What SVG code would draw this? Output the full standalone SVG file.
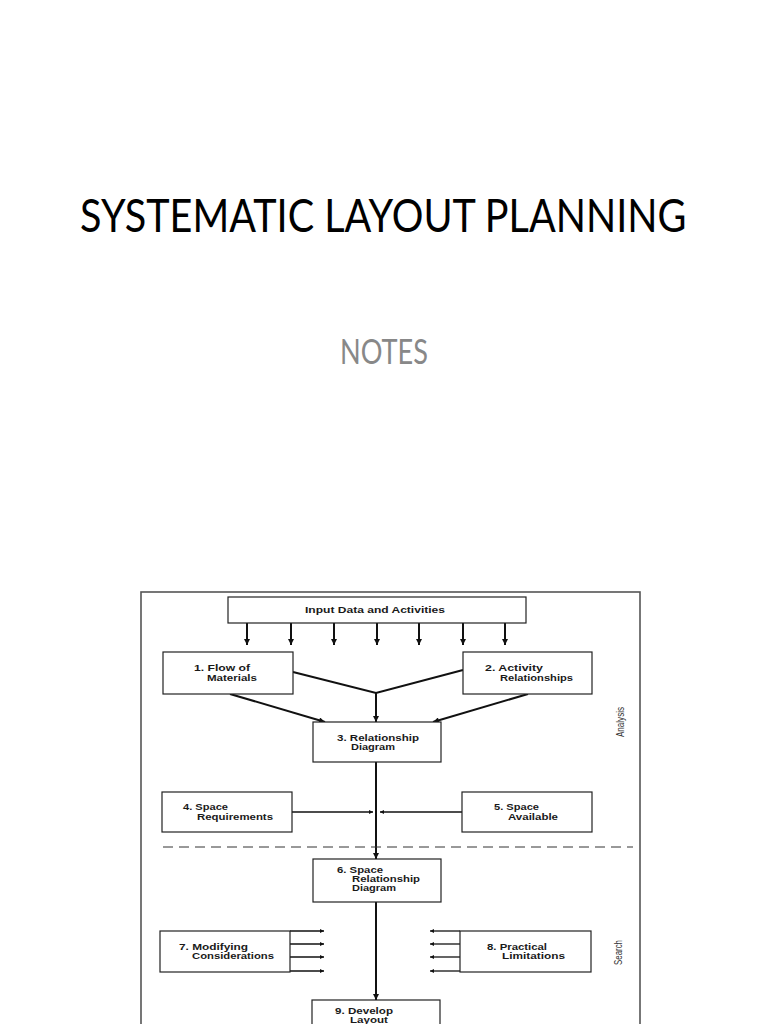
<svg xmlns="http://www.w3.org/2000/svg" width="768" height="1024" viewBox="0 0 768 1024">
<style>
.title{font-family:Lato,"Open Sans","Liberation Sans",sans-serif;font-size:47px;fill:#000}
.sub{font-family:Lato,"Open Sans","Liberation Sans",sans-serif;font-size:34px;fill:#888}
.box{fill:#fff;stroke:#222;stroke-width:1.2}
.lbl{font-family:"Liberation Sans",Arial,sans-serif;font-size:9px;font-weight:bold;fill:#1a1a1a}
.side{font-family:"Liberation Sans",Arial,sans-serif;font-size:10px;fill:#333}
.thick{stroke:#111;stroke-width:2;fill:none}
.thin{stroke:#111;stroke-width:1.3;fill:none}
</style>
<defs>
<marker id="ah" viewBox="0 0 10 10" refX="10" refY="5" markerWidth="8" markerHeight="6" markerUnits="userSpaceOnUse" orient="auto">
<path d="M0,0 L10,5 L0,10 z" fill="#111"/>
</marker>
<marker id="ahs" viewBox="0 0 10 10" refX="10" refY="5" markerWidth="8" markerHeight="4" markerUnits="userSpaceOnUse" orient="auto">
<path d="M0,0 L10,5 L0,10 z" fill="#111"/>
</marker>
</defs>
<rect width="768" height="1024" fill="#fff"/>
<text class="title" transform="translate(80,232) scale(0.87,1)" x="0" y="0" textLength="697" lengthAdjust="spacingAndGlyphs">SYSTEMATIC LAYOUT PLANNING</text>
<text class="sub" x="340" y="364" textLength="88" lengthAdjust="spacingAndGlyphs">NOTES</text>

<rect id="frame" x="141" y="592" width="499" height="440" fill="none" stroke="#555" stroke-width="1.6"/>

<g id="connectors">
<line class="thick" x1="247" y1="623" x2="247" y2="645" marker-end="url(#ah)"/>
<line class="thick" x1="291" y1="623" x2="291" y2="645" marker-end="url(#ah)"/>
<line class="thick" x1="334" y1="623" x2="334" y2="645" marker-end="url(#ah)"/>
<line class="thick" x1="377" y1="623" x2="377" y2="645" marker-end="url(#ah)"/>
<line class="thick" x1="419" y1="623" x2="419" y2="645" marker-end="url(#ah)"/>
<line class="thick" x1="463" y1="623" x2="463" y2="645" marker-end="url(#ah)"/>
<line class="thick" x1="505" y1="623" x2="505" y2="645" marker-end="url(#ah)"/>
<polyline class="thick" points="293,672 376,693 463,670"/>
<line class="thick" x1="376" y1="693" x2="376" y2="722" marker-end="url(#ah)"/>
<line class="thick" x1="230" y1="694" x2="325" y2="722" marker-end="url(#ah)"/>
<line class="thick" x1="528" y1="694" x2="433" y2="722" marker-end="url(#ah)"/>
<line class="thick" x1="376" y1="762" x2="376" y2="859" marker-end="url(#ah)"/>
<line class="thin" x1="292" y1="812" x2="373" y2="812" marker-end="url(#ahs)"/>
<line class="thin" x1="462" y1="812" x2="380" y2="812" marker-end="url(#ahs)"/>
<line stroke="#333" stroke-width="1" stroke-dasharray="10,6" x1="163" y1="847" x2="633" y2="847"/>
<line class="thick" x1="376" y1="902" x2="376" y2="1000" marker-end="url(#ah)"/>
<line class="thin" x1="290" y1="931" x2="324" y2="931" marker-end="url(#ahs)"/>
<line class="thin" x1="290" y1="944" x2="324" y2="944" marker-end="url(#ahs)"/>
<line class="thin" x1="290" y1="957" x2="324" y2="957" marker-end="url(#ahs)"/>
<line class="thin" x1="290" y1="971" x2="324" y2="971" marker-end="url(#ahs)"/>
<line class="thin" x1="460" y1="931" x2="430" y2="931" marker-end="url(#ahs)"/>
<line class="thin" x1="460" y1="944" x2="430" y2="944" marker-end="url(#ahs)"/>
<line class="thin" x1="460" y1="957" x2="430" y2="957" marker-end="url(#ahs)"/>
<line class="thin" x1="460" y1="971" x2="430" y2="971" marker-end="url(#ahs)"/>
</g>

<g id="input">
<rect class="box" x="228" y="597" width="298" height="26"/>
<text class="lbl" x="305" y="613" textLength="140" lengthAdjust="spacingAndGlyphs">Input Data and Activities</text>
</g>
<g id="n1">
<rect class="box" x="163" y="652" width="130" height="42"/>
<text class="lbl" x="194" y="671" textLength="56" lengthAdjust="spacingAndGlyphs">1. Flow of</text>
<text class="lbl" x="207" y="681" textLength="50" lengthAdjust="spacingAndGlyphs">Materials</text>
</g>
<g id="n2">
<rect class="box" x="463" y="652" width="129" height="42"/>
<text class="lbl" x="485" y="671" textLength="58" lengthAdjust="spacingAndGlyphs">2. Activity</text>
<text class="lbl" x="500" y="681" textLength="73" lengthAdjust="spacingAndGlyphs">Relationships</text>
</g>
<g id="n3">
<rect class="box" x="313" y="722" width="128" height="40"/>
<text class="lbl" x="337" y="741" textLength="82" lengthAdjust="spacingAndGlyphs">3. Relationship</text>
<text class="lbl" x="351" y="750" textLength="44" lengthAdjust="spacingAndGlyphs">Diagram</text>
</g>
<g id="n4">
<rect class="box" x="162" y="792" width="130" height="40"/>
<text class="lbl" x="183" y="810" textLength="45" lengthAdjust="spacingAndGlyphs">4. Space</text>
<text class="lbl" x="197" y="820" textLength="76" lengthAdjust="spacingAndGlyphs">Requirements</text>
</g>
<g id="n5">
<rect class="box" x="462" y="792" width="130" height="40"/>
<text class="lbl" x="494" y="810" textLength="45" lengthAdjust="spacingAndGlyphs">5. Space</text>
<text class="lbl" x="508" y="820" textLength="50" lengthAdjust="spacingAndGlyphs">Available</text>
</g>
<g id="n6">
<rect class="box" x="313" y="859" width="128" height="43"/>
<text class="lbl" x="337" y="873" textLength="46" lengthAdjust="spacingAndGlyphs">6. Space</text>
<text class="lbl" x="352" y="882" textLength="68" lengthAdjust="spacingAndGlyphs">Relationship</text>
<text class="lbl" x="352" y="891" textLength="44" lengthAdjust="spacingAndGlyphs">Diagram</text>
</g>
<g id="n7">
<rect class="box" x="160" y="931" width="130" height="41"/>
<text class="lbl" x="179" y="950" textLength="69" lengthAdjust="spacingAndGlyphs">7. Modifying</text>
<text class="lbl" x="192" y="959" textLength="82" lengthAdjust="spacingAndGlyphs">Considerations</text>
</g>
<g id="n8">
<rect class="box" x="460" y="931" width="131" height="41"/>
<text class="lbl" x="487" y="950" textLength="60" lengthAdjust="spacingAndGlyphs">8. Practical</text>
<text class="lbl" x="502" y="959" textLength="63" lengthAdjust="spacingAndGlyphs">Limitations</text>
</g>
<g id="n9">
<rect class="box" x="312" y="1000" width="128" height="40"/>
<text class="lbl" x="335" y="1014" textLength="58" lengthAdjust="spacingAndGlyphs">9. Develop</text>
<text class="lbl" x="350" y="1023" textLength="38" lengthAdjust="spacingAndGlyphs">Layout</text>
</g>

<text class="side" transform="translate(624,737) rotate(-90)" textLength="30" lengthAdjust="spacingAndGlyphs">Analysis</text>
<text class="side" transform="translate(622,965) rotate(-90)" textLength="25" lengthAdjust="spacingAndGlyphs">Search</text>
</svg>
